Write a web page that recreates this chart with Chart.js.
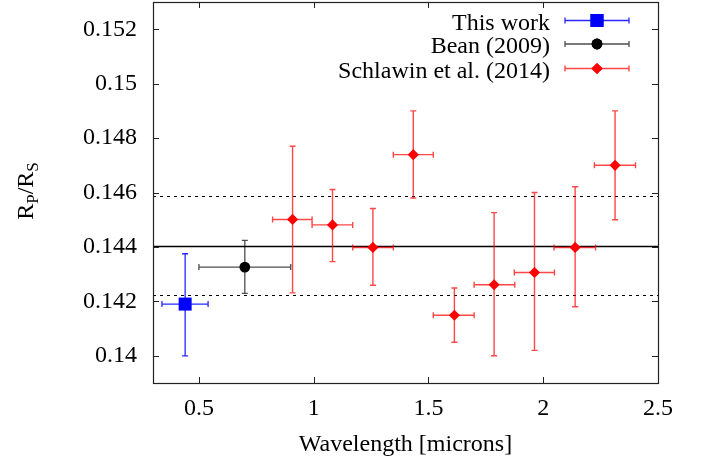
<!DOCTYPE html>
<html>
<head>
<meta charset="utf-8">
<script src="https://cdn.jsdelivr.net/npm/chart.js@4/dist/chart.umd.min.js"></script>
<style>
  html, body { margin: 0; padding: 0; background: #fff; }
  #wrap { width: 710px; height: 459px; position: relative; }
</style>
</head>
<body>
<div id="wrap"><canvas id="c" width="710" height="459"></canvas></div>
<script>
// ---- Data ----
const xTicks = [0.5, 1, 1.5, 2, 2.5];
const yTicks = [0.14, 0.142, 0.144, 0.146, 0.148, 0.15, 0.152];
const yTickLabels = ["0.14", "0.142", "0.144", "0.146", "0.148", "0.15", "0.152"];

const thisWorkX = [0.44];
const thisWorkY = [0.1419];
const thisWorkXLo = [0.339];
const thisWorkXHi = [0.54];
const thisWorkYLo = [0.1400];
const thisWorkYHi = [0.14375];

const beanX = [0.70];
const beanY = [0.14326];
const beanXLo = [0.50];
const beanXHi = [0.90];
const beanYLo = [0.14229];
const beanYHi = [0.14424];

const schlawinX = [0.908, 1.082, 1.258, 1.434, 1.613, 1.786, 1.962, 2.139, 2.313];
const schlawinY = [0.14501, 0.14481, 0.14398, 0.14739, 0.14149, 0.14261, 0.14306, 0.14398, 0.1470];
const schlawinXLo = [0.821, 0.993, 1.170, 1.347, 1.521, 1.699, 1.874, 2.047, 2.223];
const schlawinXHi = [0.993, 1.170, 1.347, 1.521, 1.699, 1.876, 2.049, 2.228, 2.402];
const schlawinYLo = [0.14231, 0.14346, 0.14259, 0.1458, 0.1405, 0.1400, 0.1402, 0.1418, 0.1450];
const schlawinYHi = [0.1477, 0.14611, 0.14541, 0.1490, 0.14249, 0.14526, 0.1460, 0.14621, 0.1490];

const meanLevel = [0.14405];
const sigmaLevels = [0.14223, 0.14587];

const seriesNames = ["This work", "Bean (2009)", "Schlawin et al. (2014)"];

// ---- Build datasets ----
function pts(xs, ys, xlo, xhi, ylo, yhi) {
  return xs.map((x, i) => ({ x: x, y: ys[i], xlo: xlo[i], xhi: xhi[i], ylo: ylo[i], yhi: yhi[i] }));
}

const FONT = "'Liberation Serif', 'DejaVu Serif', serif";
const FS = 24;

const datasets = [
  {
    label: seriesNames[0],
    data: pts(thisWorkX, thisWorkY, thisWorkXLo, thisWorkXHi, thisWorkYLo, thisWorkYHi),
    pointStyle: 'rect', pointRadius: 9.2, backgroundColor: '#0000ff', borderColor: '#0000ff', borderWidth: 0,
    errColor: 'rgba(0,0,255,0.85)', errWidth: 1.3
  },
  {
    label: seriesNames[1],
    data: pts(beanX, beanY, beanXLo, beanXHi, beanYLo, beanYHi),
    pointStyle: 'circle', pointRadius: 5.4, backgroundColor: '#000000', borderColor: '#000000', borderWidth: 0,
    errColor: 'rgba(0,0,0,0.7)', errWidth: 1.3
  },
  {
    label: seriesNames[2],
    data: pts(schlawinX, schlawinY, schlawinXLo, schlawinXHi, schlawinYLo, schlawinYHi),
    pointStyle: 'rectRot', pointRadius: 5.6, backgroundColor: '#ff0000', borderColor: '#ff0000', borderWidth: 0,
    errColor: 'rgba(255,0,0,0.72)', errWidth: 1.4
  }
];

const CAP = 3;

const decorPlugin = {
  id: 'decor',
  beforeDatasetsDraw(chart) {
    const { ctx, chartArea: a, scales: { x, y } } = chart;
    ctx.save();
    ctx.beginPath();
    ctx.rect(a.left, a.top, a.right - a.left, a.bottom - a.top);
    ctx.clip();
    // mean line
    ctx.strokeStyle = '#000';
    ctx.lineWidth = 1.4;
    ctx.setLineDash([]);
    meanLevel.forEach(v => {
      const py = Math.round(y.getPixelForValue(v)) + 0.5;
      ctx.beginPath(); ctx.moveTo(a.left, py); ctx.lineTo(a.right, py); ctx.stroke();
    });
    // sigma dashed lines
    ctx.lineWidth = 1;
    ctx.setLineDash([3, 4]);
    sigmaLevels.forEach(v => {
      const py = Math.round(y.getPixelForValue(v)) + 0.5;
      ctx.beginPath(); ctx.moveTo(a.left, py); ctx.lineTo(a.right, py); ctx.stroke();
    });
    ctx.setLineDash([]);
    // error bars
    chart.data.datasets.forEach(ds => {
      ctx.strokeStyle = ds.errColor;
      ctx.lineWidth = ds.errWidth;
      ds.data.forEach(p => {
        const px = x.getPixelForValue(p.x), py = y.getPixelForValue(p.y);
        const x0 = x.getPixelForValue(p.xlo), x1 = x.getPixelForValue(p.xhi);
        const y0 = y.getPixelForValue(p.ylo), y1 = y.getPixelForValue(p.yhi);
        ctx.beginPath();
        ctx.moveTo(x0, py); ctx.lineTo(x1, py);
        ctx.moveTo(x0, py - CAP); ctx.lineTo(x0, py + CAP);
        ctx.moveTo(x1, py - CAP); ctx.lineTo(x1, py + CAP);
        ctx.moveTo(px, y0); ctx.lineTo(px, y1);
        ctx.moveTo(px - CAP, y0); ctx.lineTo(px + CAP, y0);
        ctx.moveTo(px - CAP, y1); ctx.lineTo(px + CAP, y1);
        ctx.stroke();
      });
    });
    ctx.restore();
  },
  afterDraw(chart) {
    const { ctx, chartArea: a, scales: { x, y } } = chart;
    ctx.save();
    // frame
    ctx.strokeStyle = '#222';
    ctx.lineWidth = 1.2;
    ctx.strokeRect(Math.round(a.left) + 0.5, Math.round(a.top) + 0.5, Math.round(a.right - a.left), Math.round(a.bottom - a.top));
    // inward ticks
    const TL = 6;
    ctx.lineWidth = 1;
    ctx.beginPath();
    xTicks.forEach(v => {
      const px = Math.round(x.getPixelForValue(v)) + 0.5;
      if (px < a.left + 1 || px > a.right - 1) return;
      ctx.moveTo(px, a.bottom); ctx.lineTo(px, a.bottom - TL);
      ctx.moveTo(px, a.top); ctx.lineTo(px, a.top + TL);
    });
    yTicks.forEach(v => {
      const py = Math.round(y.getPixelForValue(v)) + 0.5;
      ctx.moveTo(a.left, py); ctx.lineTo(a.left + TL, py);
      ctx.moveTo(a.right, py); ctx.lineTo(a.right - TL, py);
    });
    ctx.stroke();

    // y axis title R_P/R_S (rotated)
    ctx.fillStyle = '#000';
    ctx.translate(27, 191);
    ctx.rotate(-Math.PI / 2);
    const big = FS + 'px ' + FONT, small = '17px ' + FONT;
    const parts = [['R', big, 0], ['P', small, 5], ['/R', big, 0], ['S', small, 5]];
    let w = 0;
    parts.forEach(pt => { ctx.font = pt[1]; w += ctx.measureText(pt[0]).width; });
    let cx = -w / 2;
    ctx.textBaseline = 'alphabetic';
    ctx.textAlign = 'left';
    parts.forEach(pt => {
      ctx.font = pt[1];
      ctx.fillText(pt[0], cx, 6 + pt[2]);
      cx += ctx.measureText(pt[0]).width;
    });
    ctx.setTransform(1, 0, 0, 1, 0, 0);

    // legend
    const rows = [20.5, 44, 68.5];
    const lx0 = 565, lx1 = 629, lm = 597, textRight = 550;
    chart.data.datasets.forEach((ds, i) => {
      const ry = rows[i];
      ctx.font = FS + 'px ' + FONT;
      ctx.textAlign = 'right';
      ctx.textBaseline = 'alphabetic';
      ctx.fillStyle = '#000';
      ctx.fillText(ds.label, textRight, ry + 9);
      ctx.strokeStyle = ds.errColor;
      ctx.lineWidth = ds.errWidth;
      ctx.beginPath();
      ctx.moveTo(lx0, ry); ctx.lineTo(lx1, ry);
      ctx.moveTo(lx0, ry - CAP); ctx.lineTo(lx0, ry + CAP);
      ctx.moveTo(lx1, ry - CAP); ctx.lineTo(lx1, ry + CAP);
      ctx.stroke();
      ctx.fillStyle = ds.backgroundColor;
      Chart.helpers.drawPoint(ctx, { pointStyle: ds.pointStyle, radius: ds.pointRadius, borderWidth: 0, rotation: 0 }, lm, ry);
      ctx.fill();
    });
    ctx.restore();
  }
};

new Chart(document.getElementById('c'), {
  type: 'scatter',
  data: { datasets: datasets },
  options: {
    responsive: false,
    animation: false,
    devicePixelRatio: 1,
    layout: { autoPadding: false, padding: { top: 2, right: 52, left: 0, bottom: 0 } },
    plugins: { legend: { display: false }, tooltip: { enabled: false } },
    scales: {
      x: {
        type: 'linear', min: 0.3, max: 2.5,
        afterBuildTicks: s => { s.ticks = xTicks.map(v => ({ value: v })); },
        afterFit: s => { s.height = 76; s.paddingLeft = 0; s.paddingRight = 0; },
        grid: { display: false, drawTicks: false },
        border: { display: false },
        ticks: { font: { family: FONT, size: FS }, color: '#000', padding: 11, maxRotation: 0, callback: v => String(v) },
        title: { display: true, text: 'Wavelength [microns]', font: { family: FONT, size: FS }, color: '#000', padding: { top: 0, bottom: 0 } }
      },
      y: {
        type: 'linear', min: 0.139, max: 0.153,
        afterBuildTicks: s => { s.ticks = yTicks.map(v => ({ value: v })); },
        afterFit: s => { s.width = 153; s.paddingTop = 0; s.paddingBottom = 0; },
        grid: { display: false, drawTicks: false },
        border: { display: false },
        ticks: { font: { family: FONT, size: FS }, color: '#000', padding: 16,
          callback: (v) => { const i = yTicks.findIndex(t => Math.abs(t - v) < 1e-9); return i >= 0 ? yTickLabels[i] : ''; } }
      }
    }
  },
  plugins: [decorPlugin]
});
</script>
</body>
</html>
